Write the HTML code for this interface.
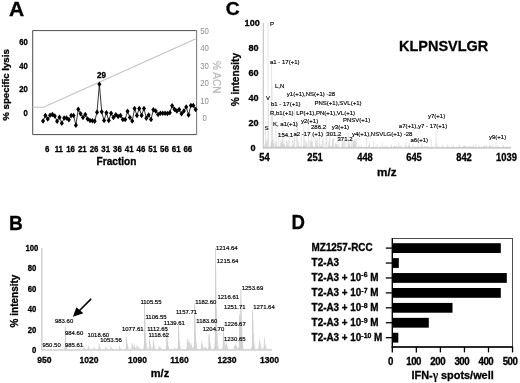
<!DOCTYPE html>
<html><head><meta charset="utf-8"><title>Figure</title>
<style>
html,body{margin:0;padding:0;background:#fff;}
body{width:520px;height:383px;overflow:hidden;font-family:"Liberation Sans",sans-serif;}
svg{display:block;filter:blur(0.42px);}
svg text{font-family:"Liberation Sans",sans-serif;}
</style></head><body>
<svg width="520" height="383" viewBox="0 0 520 383">
<rect x="0" y="0" width="520" height="383" fill="#fff"/>
<text transform="translate(8.9,15.6) scale(1.08,1)" font-size="19.5" font-weight="bold" stroke="#000" stroke-width="0.3" text-anchor="start" fill="#000">A</text>
<path d="M196.6,30.6 H32.7 V134.6 H196.6" fill="none" stroke="#4d4d4d" stroke-width="1"/>
<line x1="196.6" y1="30.1" x2="196.6" y2="135.1" stroke="#808080" stroke-width="1.1"/>
<text transform="translate(27.9,45.15) scale(0.92,1)" font-size="8.4" font-weight="bold" stroke="#000" stroke-width="0.3" text-anchor="end" fill="#000">60</text>
<text transform="translate(27.9,68.65) scale(0.92,1)" font-size="8.4" font-weight="bold" stroke="#000" stroke-width="0.3" text-anchor="end" fill="#000">40</text>
<text transform="translate(27.9,91.95) scale(0.92,1)" font-size="8.4" font-weight="bold" stroke="#000" stroke-width="0.3" text-anchor="end" fill="#000">20</text>
<text transform="translate(27.9,115.65) scale(0.92,1)" font-size="8.4" font-weight="bold" stroke="#000" stroke-width="0.3" text-anchor="end" fill="#000">0</text>
<text transform="translate(204.6,33.85) scale(0.95,1)" font-size="8.2" text-anchor="middle" fill="#8c8c8c">50</text>
<text transform="translate(204.6,51.35) scale(0.95,1)" font-size="8.2" text-anchor="middle" fill="#8c8c8c">40</text>
<text transform="translate(204.6,68.85000000000001) scale(0.95,1)" font-size="8.2" text-anchor="middle" fill="#8c8c8c">30</text>
<text transform="translate(204.6,86.35000000000001) scale(0.95,1)" font-size="8.2" text-anchor="middle" fill="#8c8c8c">20</text>
<text transform="translate(204.6,103.95) scale(0.95,1)" font-size="8.2" text-anchor="middle" fill="#8c8c8c">10</text>
<text transform="translate(204.6,121.45) scale(0.95,1)" font-size="8.2" text-anchor="middle" fill="#8c8c8c">0</text>
<text transform="translate(47.1,152.1) scale(0.86,1)" font-size="9.2" font-weight="bold" stroke="#000" stroke-width="0.3" text-anchor="middle" fill="#000">6</text>
<text transform="translate(58.83,152.1) scale(0.86,1)" font-size="9.2" font-weight="bold" stroke="#000" stroke-width="0.3" text-anchor="middle" fill="#000">11</text>
<text transform="translate(70.56,152.1) scale(0.86,1)" font-size="9.2" font-weight="bold" stroke="#000" stroke-width="0.3" text-anchor="middle" fill="#000">16</text>
<text transform="translate(82.28999999999999,152.1) scale(0.86,1)" font-size="9.2" font-weight="bold" stroke="#000" stroke-width="0.3" text-anchor="middle" fill="#000">21</text>
<text transform="translate(94.02000000000001,152.1) scale(0.86,1)" font-size="9.2" font-weight="bold" stroke="#000" stroke-width="0.3" text-anchor="middle" fill="#000">26</text>
<text transform="translate(105.75,152.1) scale(0.86,1)" font-size="9.2" font-weight="bold" stroke="#000" stroke-width="0.3" text-anchor="middle" fill="#000">31</text>
<text transform="translate(117.47999999999999,152.1) scale(0.86,1)" font-size="9.2" font-weight="bold" stroke="#000" stroke-width="0.3" text-anchor="middle" fill="#000">36</text>
<text transform="translate(129.21,152.1) scale(0.86,1)" font-size="9.2" font-weight="bold" stroke="#000" stroke-width="0.3" text-anchor="middle" fill="#000">41</text>
<text transform="translate(140.94,152.1) scale(0.86,1)" font-size="9.2" font-weight="bold" stroke="#000" stroke-width="0.3" text-anchor="middle" fill="#000">46</text>
<text transform="translate(152.67000000000002,152.1) scale(0.86,1)" font-size="9.2" font-weight="bold" stroke="#000" stroke-width="0.3" text-anchor="middle" fill="#000">51</text>
<text transform="translate(164.4,152.1) scale(0.86,1)" font-size="9.2" font-weight="bold" stroke="#000" stroke-width="0.3" text-anchor="middle" fill="#000">56</text>
<text transform="translate(176.13,152.1) scale(0.86,1)" font-size="9.2" font-weight="bold" stroke="#000" stroke-width="0.3" text-anchor="middle" fill="#000">61</text>
<text transform="translate(187.85999999999999,152.1) scale(0.86,1)" font-size="9.2" font-weight="bold" stroke="#000" stroke-width="0.3" text-anchor="middle" fill="#000">66</text>
<text x="116.5" y="165.0" font-size="10.1" font-weight="bold" stroke="#000" stroke-width="0.3" text-anchor="middle" fill="#000">Fraction</text>
<text transform="translate(9.3,85.0) rotate(-90)" font-size="9.7" font-weight="bold" stroke="#000" stroke-width="0.3" text-anchor="middle">% specific lysis</text>
<text transform="translate(213.0,77.3) rotate(90)" font-size="10.1" stroke="#b8b8b8" stroke-width="0.2" text-anchor="middle" fill="#b8b8b8">% ACN</text>
<polyline points="32.5,107.3 43.5,107.3 196.5,38.5" fill="none" stroke="#c2c2c2" stroke-width="1.05"/>
<polyline points="43.05,120.90 45.40,115.50 47.74,119.00 50.09,115.20 52.44,114.40 54.78,116.10 57.13,121.30 59.48,117.20 61.83,123.30 64.17,118.00 66.52,118.00 68.87,119.80 71.21,115.50 73.56,115.50 75.91,125.20 78.25,109.30 80.60,113.80 82.95,117.40 85.30,114.60 87.64,119.00 89.99,120.50 92.34,120.80 94.68,121.30 97.03,112.20 99.38,84.20 101.72,111.80 104.07,120.60 106.42,112.70 108.77,120.60 111.11,113.30 113.46,117.50 115.81,114.80 118.15,116.40 120.50,115.40 122.85,119.60 125.19,119.60 127.54,111.20 129.89,117.50 132.24,121.00 134.58,108.50 136.93,115.40 139.28,108.50 141.62,115.40 143.97,108.40 146.32,118.20 148.66,115.00 151.01,119.40 153.36,109.80 155.71,110.90 158.05,114.50 160.40,113.20 162.75,113.20 165.09,113.20 167.44,113.50 169.79,112.80 172.13,105.70 174.48,109.30 176.83,110.90 179.18,109.60 181.52,113.80 183.87,110.90 186.22,107.00 188.56,115.00 190.91,105.40 193.26,105.40 195.61,109.60" fill="none" stroke="#111" stroke-width="0.85"/>
<path d="M43.05,118.15l2.05,2.75l-2.05,2.75l-2.05,-2.75zM45.40,112.75l2.05,2.75l-2.05,2.75l-2.05,-2.75zM47.74,116.25l2.05,2.75l-2.05,2.75l-2.05,-2.75zM50.09,112.45l2.05,2.75l-2.05,2.75l-2.05,-2.75zM52.44,111.65l2.05,2.75l-2.05,2.75l-2.05,-2.75zM54.78,113.35l2.05,2.75l-2.05,2.75l-2.05,-2.75zM57.13,118.55l2.05,2.75l-2.05,2.75l-2.05,-2.75zM59.48,114.45l2.05,2.75l-2.05,2.75l-2.05,-2.75zM61.83,120.55l2.05,2.75l-2.05,2.75l-2.05,-2.75zM64.17,115.25l2.05,2.75l-2.05,2.75l-2.05,-2.75zM66.52,115.25l2.05,2.75l-2.05,2.75l-2.05,-2.75zM68.87,117.05l2.05,2.75l-2.05,2.75l-2.05,-2.75zM71.21,112.75l2.05,2.75l-2.05,2.75l-2.05,-2.75zM73.56,112.75l2.05,2.75l-2.05,2.75l-2.05,-2.75zM75.91,122.45l2.05,2.75l-2.05,2.75l-2.05,-2.75zM78.25,106.55l2.05,2.75l-2.05,2.75l-2.05,-2.75zM80.60,111.05l2.05,2.75l-2.05,2.75l-2.05,-2.75zM82.95,114.65l2.05,2.75l-2.05,2.75l-2.05,-2.75zM85.30,111.85l2.05,2.75l-2.05,2.75l-2.05,-2.75zM87.64,116.25l2.05,2.75l-2.05,2.75l-2.05,-2.75zM89.99,117.75l2.05,2.75l-2.05,2.75l-2.05,-2.75zM92.34,118.05l2.05,2.75l-2.05,2.75l-2.05,-2.75zM94.68,118.55l2.05,2.75l-2.05,2.75l-2.05,-2.75zM97.03,109.45l2.05,2.75l-2.05,2.75l-2.05,-2.75zM99.38,81.45l2.05,2.75l-2.05,2.75l-2.05,-2.75zM101.72,109.05l2.05,2.75l-2.05,2.75l-2.05,-2.75zM104.07,117.85l2.05,2.75l-2.05,2.75l-2.05,-2.75zM106.42,109.95l2.05,2.75l-2.05,2.75l-2.05,-2.75zM108.77,117.85l2.05,2.75l-2.05,2.75l-2.05,-2.75zM111.11,110.55l2.05,2.75l-2.05,2.75l-2.05,-2.75zM113.46,114.75l2.05,2.75l-2.05,2.75l-2.05,-2.75zM115.81,112.05l2.05,2.75l-2.05,2.75l-2.05,-2.75zM118.15,113.65l2.05,2.75l-2.05,2.75l-2.05,-2.75zM120.50,112.65l2.05,2.75l-2.05,2.75l-2.05,-2.75zM122.85,116.85l2.05,2.75l-2.05,2.75l-2.05,-2.75zM125.19,116.85l2.05,2.75l-2.05,2.75l-2.05,-2.75zM127.54,108.45l2.05,2.75l-2.05,2.75l-2.05,-2.75zM129.89,114.75l2.05,2.75l-2.05,2.75l-2.05,-2.75zM132.24,118.25l2.05,2.75l-2.05,2.75l-2.05,-2.75zM134.58,105.75l2.05,2.75l-2.05,2.75l-2.05,-2.75zM136.93,112.65l2.05,2.75l-2.05,2.75l-2.05,-2.75zM139.28,105.75l2.05,2.75l-2.05,2.75l-2.05,-2.75zM141.62,112.65l2.05,2.75l-2.05,2.75l-2.05,-2.75zM143.97,105.65l2.05,2.75l-2.05,2.75l-2.05,-2.75zM146.32,115.45l2.05,2.75l-2.05,2.75l-2.05,-2.75zM148.66,112.25l2.05,2.75l-2.05,2.75l-2.05,-2.75zM151.01,116.65l2.05,2.75l-2.05,2.75l-2.05,-2.75zM153.36,107.05l2.05,2.75l-2.05,2.75l-2.05,-2.75zM155.71,108.15l2.05,2.75l-2.05,2.75l-2.05,-2.75zM158.05,111.75l2.05,2.75l-2.05,2.75l-2.05,-2.75zM160.40,110.45l2.05,2.75l-2.05,2.75l-2.05,-2.75zM162.75,110.45l2.05,2.75l-2.05,2.75l-2.05,-2.75zM165.09,110.45l2.05,2.75l-2.05,2.75l-2.05,-2.75zM167.44,110.75l2.05,2.75l-2.05,2.75l-2.05,-2.75zM169.79,110.05l2.05,2.75l-2.05,2.75l-2.05,-2.75zM172.13,102.95l2.05,2.75l-2.05,2.75l-2.05,-2.75zM174.48,106.55l2.05,2.75l-2.05,2.75l-2.05,-2.75zM176.83,108.15l2.05,2.75l-2.05,2.75l-2.05,-2.75zM179.18,106.85l2.05,2.75l-2.05,2.75l-2.05,-2.75zM181.52,111.05l2.05,2.75l-2.05,2.75l-2.05,-2.75zM183.87,108.15l2.05,2.75l-2.05,2.75l-2.05,-2.75zM186.22,104.25l2.05,2.75l-2.05,2.75l-2.05,-2.75zM188.56,112.25l2.05,2.75l-2.05,2.75l-2.05,-2.75zM190.91,102.65l2.05,2.75l-2.05,2.75l-2.05,-2.75zM193.26,102.65l2.05,2.75l-2.05,2.75l-2.05,-2.75zM195.61,106.85l2.05,2.75l-2.05,2.75l-2.05,-2.75z" fill="#000"/>
<text transform="translate(101.6,78.2) scale(0.9,1)" font-size="9" font-weight="bold" stroke="#000" stroke-width="0.3" text-anchor="middle" fill="#000">29</text>
<text transform="translate(8.9,229.6) scale(0.975,1)" font-size="19.6" font-weight="bold" stroke="#000" stroke-width="0.3" text-anchor="start" fill="#000">B</text>
<line x1="41.9" y1="248" x2="41.9" y2="350.5" stroke="#c4c4c4" stroke-width="1.1"/>
<line x1="41.5" y1="350" x2="272" y2="350" stroke="#bbb" stroke-width="1"/>
<text transform="translate(36.4,353.0) scale(0.92,1)" font-size="8.4" font-weight="bold" stroke="#000" stroke-width="0.3" text-anchor="end" fill="#000">0</text>
<text transform="translate(36.4,332.6) scale(0.92,1)" font-size="8.4" font-weight="bold" stroke="#000" stroke-width="0.3" text-anchor="end" fill="#000">20</text>
<text transform="translate(36.4,312.2) scale(0.92,1)" font-size="8.4" font-weight="bold" stroke="#000" stroke-width="0.3" text-anchor="end" fill="#000">40</text>
<text transform="translate(36.4,291.8) scale(0.92,1)" font-size="8.4" font-weight="bold" stroke="#000" stroke-width="0.3" text-anchor="end" fill="#000">60</text>
<text transform="translate(36.4,271.4) scale(0.92,1)" font-size="8.4" font-weight="bold" stroke="#000" stroke-width="0.3" text-anchor="end" fill="#000">80</text>
<text transform="translate(38.4,251.0) scale(0.92,1)" font-size="8.4" font-weight="bold" stroke="#000" stroke-width="0.3" text-anchor="end" fill="#000">100</text>
<text transform="translate(44.3,363.4) scale(0.93,1)" font-size="9.2" font-weight="bold" stroke="#000" stroke-width="0.3" text-anchor="middle" fill="#000">950</text>
<text transform="translate(89,363.4) scale(0.93,1)" font-size="9.2" font-weight="bold" stroke="#000" stroke-width="0.3" text-anchor="middle" fill="#000">1020</text>
<text transform="translate(137.4,363.4) scale(0.93,1)" font-size="9.2" font-weight="bold" stroke="#000" stroke-width="0.3" text-anchor="middle" fill="#000">1090</text>
<text transform="translate(179.5,363.4) scale(0.93,1)" font-size="9.2" font-weight="bold" stroke="#000" stroke-width="0.3" text-anchor="middle" fill="#000">1160</text>
<text transform="translate(227,363.4) scale(0.93,1)" font-size="9.2" font-weight="bold" stroke="#000" stroke-width="0.3" text-anchor="middle" fill="#000">1230</text>
<text transform="translate(269.5,363.4) scale(0.93,1)" font-size="9.2" font-weight="bold" stroke="#000" stroke-width="0.3" text-anchor="middle" fill="#000">1300</text>
<text x="160" y="377.2" font-size="11" font-weight="bold" stroke="#000" stroke-width="0.3" text-anchor="middle" fill="#000">m/z</text>
<text transform="translate(17.7,301) rotate(-90)" font-size="10" font-weight="bold" stroke="#000" stroke-width="0.3" text-anchor="middle">% intensity</text>
<path d="M42.5,350 L42.50,349.94 L42.70,349.90 L42.90,349.85 L43.10,349.78 L43.30,349.64 L43.50,348.92 L43.70,347.13 L43.90,346.73 L44.10,348.24 L44.30,348.44 L44.50,348.12 L44.70,348.93 L44.90,349.63 L45.10,349.82 L45.30,349.88 L45.50,349.92 L45.70,349.95 L45.90,349.97 L46.10,349.98 L46.30,349.99 L46.50,350.00 L46.70,350.00 L46.90,350.00 L47.10,350.00 L47.30,350.00 L47.50,350.00 L47.70,350.00 L47.90,350.00 L48.10,350.00 L48.30,350.00 L48.50,350.00 L48.70,350.00 L48.90,350.00 L49.10,350.00 L49.30,350.00 L49.50,350.00 L49.70,350.00 L49.90,350.00 L50.10,350.00 L50.30,350.00 L50.50,350.00 L50.70,350.00 L50.90,350.00 L51.10,350.00 L51.30,350.00 L51.50,350.00 L51.70,350.00 L51.90,350.00 L52.10,350.00 L52.30,350.00 L52.50,350.00 L52.70,350.00 L52.90,350.00 L53.10,350.00 L53.30,350.00 L53.50,350.00 L53.70,350.00 L53.90,350.00 L54.10,350.00 L54.30,350.00 L54.50,350.00 L54.70,350.00 L54.90,350.00 L55.10,350.00 L55.30,350.00 L55.50,350.00 L55.70,350.00 L55.90,350.00 L56.10,350.00 L56.30,350.00 L56.50,350.00 L56.70,350.00 L56.90,350.00 L57.10,350.00 L57.30,350.00 L57.50,350.00 L57.70,350.00 L57.90,350.00 L58.10,350.00 L58.30,350.00 L58.50,350.00 L58.70,350.00 L58.90,350.00 L59.10,350.00 L59.30,350.00 L59.50,350.00 L59.70,350.00 L59.90,350.00 L60.10,350.00 L60.30,350.00 L60.50,350.00 L60.70,350.00 L60.90,350.00 L61.10,350.00 L61.30,350.00 L61.50,350.00 L61.70,350.00 L61.90,350.00 L62.10,350.00 L62.30,350.00 L62.50,350.00 L62.70,350.00 L62.90,349.99 L63.10,349.98 L63.30,349.95 L63.50,349.89 L63.70,349.79 L63.90,349.62 L64.10,349.36 L64.30,349.01 L64.50,348.56 L64.70,347.95 L64.90,345.69 L65.10,335.73 L65.30,322.69 L65.50,328.63 L65.70,338.22 L65.90,335.31 L66.10,336.47 L66.30,342.99 L66.50,343.71 L66.70,343.62 L66.90,346.74 L67.10,348.78 L67.30,349.34 L67.50,349.57 L67.70,349.73 L67.90,349.84 L68.10,349.91 L68.30,349.95 L68.50,349.98 L68.70,349.99 L68.90,350.00 L69.10,350.00 L69.30,350.00 L69.50,350.00 L69.70,350.00 L69.90,350.00 L70.10,350.00 L70.30,350.00 L70.50,350.00 L70.70,350.00 L70.90,350.00 L71.10,350.00 L71.30,350.00 L71.50,350.00 L71.70,350.00 L71.90,350.00 L72.10,350.00 L72.30,350.00 L72.50,350.00 L72.70,350.00 L72.90,350.00 L73.10,350.00 L73.30,350.00 L73.50,350.00 L73.70,350.00 L73.90,350.00 L74.10,350.00 L74.30,350.00 L74.50,350.00 L74.70,350.00 L74.90,350.00 L75.10,350.00 L75.30,350.00 L75.50,350.00 L75.70,350.00 L75.90,350.00 L76.10,349.59 L76.30,349.59 L76.50,349.59 L76.70,349.59 L76.90,349.59 L77.10,349.59 L77.30,349.59 L77.50,349.59 L77.70,349.59 L77.90,349.59 L78.10,349.59 L78.30,349.58 L78.50,349.58 L78.70,349.58 L78.90,349.58 L79.10,349.58 L79.30,349.58 L79.50,349.58 L79.70,349.58 L79.90,349.58 L80.10,349.58 L80.30,349.58 L80.50,349.58 L80.70,349.58 L80.90,349.58 L81.10,349.57 L81.30,349.57 L81.50,349.57 L81.70,349.56 L81.90,349.55 L82.10,349.53 L82.30,349.49 L82.50,349.44 L82.70,349.38 L82.90,349.30 L83.10,349.09 L83.30,348.06 L83.50,346.01 L83.70,346.01 L83.90,347.54 L84.10,347.12 L84.30,346.77 L84.50,347.98 L84.70,348.38 L84.90,348.17 L85.10,348.66 L85.30,349.07 L85.50,349.04 L85.70,349.18 L85.90,349.40 L86.10,349.48 L86.30,349.49 L86.50,349.49 L86.70,349.46 L86.90,349.41 L87.10,349.34 L87.30,349.25 L87.50,349.10 L87.70,348.43 L87.90,346.10 L88.10,344.25 L88.30,346.03 L88.50,346.87 L88.70,345.73 L88.90,346.60 L89.10,347.95 L89.30,347.75 L89.50,347.94 L89.70,348.73 L89.90,348.89 L90.10,348.91 L90.30,349.22 L90.50,349.42 L90.70,349.48 L90.90,349.50 L91.10,349.52 L91.30,349.53 L91.50,349.53 L91.70,349.53 L91.90,349.52 L92.10,349.50 L92.30,349.47 L92.50,349.43 L92.70,349.37 L92.90,349.30 L93.10,349.08 L93.30,348.07 L93.50,346.37 L93.70,346.68 L93.90,347.87 L94.10,347.36 L94.30,347.24 L94.50,348.29 L94.70,348.50 L94.90,348.36 L95.10,348.83 L95.30,349.12 L95.50,349.09 L95.70,349.23 L95.90,349.41 L96.10,349.47 L96.30,349.49 L96.50,349.50 L96.70,349.50 L96.90,349.49 L97.10,349.47 L97.30,349.42 L97.50,349.36 L97.70,349.25 L97.90,349.12 L98.10,348.94 L98.30,348.43 L98.50,346.34 L98.70,342.51 L98.90,341.98 L99.10,344.73 L99.30,344.49 L99.50,343.75 L99.70,345.82 L99.90,346.93 L100.10,346.66 L100.30,347.48 L100.50,348.38 L100.70,348.45 L100.90,348.69 L101.10,349.14 L101.30,349.35 L101.50,349.42 L101.70,349.45 L101.90,349.48 L102.10,349.49 L102.30,349.50 L102.50,349.50 L102.70,349.51 L102.90,349.51 L103.10,349.50 L103.30,349.50 L103.50,349.49 L103.70,349.48 L103.90,349.46 L104.10,349.43 L104.30,349.39 L104.50,349.33 L104.70,349.26 L104.90,349.11 L105.10,348.37 L105.30,346.42 L105.50,345.73 L105.70,347.28 L105.90,347.32 L106.10,346.66 L106.30,347.67 L106.50,348.36 L106.70,348.12 L106.90,348.47 L107.10,348.97 L107.30,348.99 L107.50,349.07 L107.70,349.30 L107.90,349.41 L108.10,349.45 L108.30,349.46 L108.50,349.47 L108.70,349.47 L108.90,349.47 L109.10,349.46 L109.30,349.43 L109.50,349.40 L109.70,349.34 L109.90,349.27 L110.10,349.17 L110.30,348.96 L110.50,347.90 L110.70,345.47 L110.90,345.10 L111.10,346.98 L111.30,346.71 L111.50,346.10 L111.70,347.46 L111.90,348.09 L112.10,347.82 L112.30,348.34 L112.50,348.87 L112.70,348.87 L112.90,349.00 L113.10,349.27 L113.30,349.39 L113.50,349.42 L113.70,349.44 L113.90,349.45 L114.10,349.46 L114.30,349.47 L114.50,349.47 L114.70,349.47 L114.90,349.47 L115.10,349.47 L115.30,349.47 L115.50,349.47 L115.70,349.47 L115.90,349.47 L116.10,349.47 L116.30,349.47 L116.50,349.46 L116.70,349.46 L116.90,349.46 L117.10,349.46 L117.30,349.45 L117.50,349.43 L117.70,349.41 L117.90,349.37 L118.10,349.32 L118.30,349.24 L118.50,349.15 L118.70,348.97 L118.90,348.05 L119.10,345.59 L119.30,344.69 L119.50,346.64 L119.70,346.72 L119.90,345.87 L120.10,347.13 L120.30,348.02 L120.50,347.72 L120.70,348.14 L120.90,348.79 L121.10,348.82 L121.30,348.91 L121.50,349.21 L121.70,349.35 L121.90,349.39 L122.10,349.41 L122.30,349.42 L122.50,349.43 L122.70,349.44 L122.90,349.44 L123.10,349.44 L123.30,349.44 L123.50,349.44 L123.70,349.44 L123.90,349.44 L124.10,349.43 L124.30,349.42 L124.50,349.39 L124.70,349.35 L124.90,349.27 L125.10,349.15 L125.30,348.96 L125.50,348.72 L125.70,348.41 L125.90,347.82 L126.10,344.88 L126.30,336.72 L126.50,333.38 L126.70,339.87 L126.90,340.39 L127.10,337.41 L127.30,341.50 L127.50,344.62 L127.70,343.65 L127.90,344.98 L128.10,347.18 L128.30,347.32 L128.50,347.61 L128.70,348.59 L128.90,349.09 L129.10,349.23 L129.30,349.30 L129.50,349.34 L129.70,349.37 L129.90,349.37 L130.10,349.35 L130.30,349.31 L130.50,349.24 L130.70,349.13 L130.90,348.99 L131.10,348.80 L131.30,348.30 L131.50,346.08 L131.70,342.09 L131.90,341.56 L132.10,343.20 L132.30,342.94 L132.50,343.09 L132.70,344.75 L132.90,345.54 L133.10,345.83 L133.30,346.63 L133.50,347.13 L133.70,346.49 L133.90,343.87 L134.10,342.57 L134.30,345.24 L134.50,345.92 L134.70,344.70 L134.90,346.09 L135.10,347.48 L135.30,347.12 L135.50,347.47 L135.70,348.30 L135.90,348.31 L136.10,348.26 L136.30,348.27 L136.50,346.75 L136.70,343.85 L136.90,344.36 L137.10,346.45 L137.30,345.58 L137.50,345.34 L137.70,347.12 L137.90,347.46 L138.10,347.16 L138.30,347.72 L138.50,347.21 L138.70,345.99 L138.90,346.89 L139.10,347.89 L139.30,347.44 L139.50,347.69 L139.70,348.49 L139.90,348.50 L140.10,348.51 L140.30,348.92 L140.50,349.06 L140.70,349.05 L140.90,349.19 L141.10,349.31 L141.30,349.35 L141.50,349.36 L141.70,349.37 L141.90,349.38 L142.10,349.37 L142.30,349.35 L142.50,349.31 L142.70,349.22 L142.90,349.05 L143.10,348.78 L143.30,348.35 L143.50,347.72 L143.70,346.90 L143.90,345.85 L144.10,343.37 L144.30,330.84 L144.50,303.50 L144.70,300.78 L144.90,321.85 L145.10,318.44 L145.30,312.58 L145.50,327.72 L145.70,333.85 L145.90,330.75 L146.10,336.85 L146.30,342.68 L146.50,342.51 L146.70,344.12 L146.90,347.16 L147.10,348.39 L147.30,348.75 L147.50,348.91 L147.70,348.97 L147.90,348.93 L148.10,348.80 L148.30,348.58 L148.50,348.27 L148.70,347.59 L148.90,344.08 L149.10,335.65 L149.30,333.82 L149.50,340.41 L149.70,339.83 L149.90,337.46 L150.10,342.08 L150.30,344.53 L150.50,343.54 L150.70,345.23 L150.90,347.20 L151.10,347.19 L151.30,347.58 L151.50,348.49 L151.70,348.83 L151.90,348.81 L152.10,348.68 L152.30,348.48 L152.50,348.14 L152.70,346.57 L152.90,340.65 L153.10,335.21 L153.30,339.55 L153.50,342.32 L153.70,339.26 L153.90,341.17 L154.10,345.00 L154.30,344.62 L154.50,344.93 L154.70,347.06 L154.90,347.60 L155.10,347.61 L155.30,348.41 L155.50,348.98 L155.70,349.15 L155.90,349.22 L156.10,349.27 L156.30,349.29 L156.50,349.31 L156.70,349.32 L156.90,349.32 L157.10,349.31 L157.30,349.29 L157.50,349.26 L157.70,349.21 L157.90,349.15 L158.10,349.07 L158.30,348.90 L158.50,348.06 L158.70,346.02 L158.90,345.52 L159.10,347.07 L159.30,346.90 L159.50,346.21 L159.70,346.73 L159.90,346.17 L160.10,345.90 L160.30,347.18 L160.50,347.43 L160.70,347.23 L160.90,348.00 L161.10,348.47 L161.30,348.46 L161.50,348.76 L161.70,349.01 L161.90,349.01 L162.10,349.10 L162.30,349.23 L162.50,349.28 L162.70,349.29 L162.90,349.30 L163.10,349.31 L163.30,349.31 L163.50,349.31 L163.70,349.32 L163.90,349.32 L164.10,349.32 L164.30,349.31 L164.50,349.29 L164.70,349.27 L164.90,349.21 L165.10,349.12 L165.30,348.96 L165.50,348.72 L165.70,348.38 L165.90,347.95 L166.10,347.36 L166.30,345.35 L166.50,336.45 L166.70,324.14 L166.90,328.77 L167.10,336.70 L167.30,331.82 L167.50,332.55 L167.70,340.46 L167.90,341.10 L168.10,340.57 L168.30,344.40 L168.50,346.14 L168.70,345.97 L168.90,347.23 L169.10,348.50 L169.30,348.91 L169.50,349.05 L169.70,349.14 L169.90,349.21 L170.10,349.25 L170.30,349.27 L170.50,349.28 L170.70,349.29 L170.90,349.29 L171.10,349.29 L171.30,349.29 L171.50,349.29 L171.70,349.29 L171.90,349.29 L172.10,349.29 L172.30,349.29 L172.50,349.28 L172.70,349.27 L172.90,349.26 L173.10,349.23 L173.30,349.20 L173.50,349.17 L173.70,349.11 L173.90,348.85 L174.10,347.95 L174.30,347.23 L174.50,347.92 L174.70,348.24 L174.90,347.80 L175.10,348.14 L175.30,348.66 L175.50,348.58 L175.70,348.65 L175.90,348.96 L176.10,349.01 L176.30,349.00 L176.50,349.09 L176.70,349.11 L176.90,349.02 L177.10,348.85 L177.30,348.59 L177.50,348.23 L177.70,347.76 L177.90,347.06 L178.10,344.23 L178.30,333.25 L178.50,322.25 L178.70,329.97 L178.90,335.91 L179.10,330.10 L179.30,333.21 L179.50,340.80 L179.70,340.29 L179.90,340.65 L180.10,344.76 L180.30,345.93 L180.50,345.90 L180.70,347.40 L180.90,348.54 L181.10,348.89 L181.30,349.02 L181.50,349.11 L181.70,349.17 L181.90,349.21 L182.10,349.23 L182.30,349.25 L182.50,349.25 L182.70,349.25 L182.90,349.26 L183.10,349.26 L183.30,349.26 L183.50,349.25 L183.70,349.25 L183.90,349.25 L184.10,349.25 L184.30,349.25 L184.50,349.25 L184.70,349.24 L184.90,349.23 L185.10,349.21 L185.30,349.18 L185.50,349.11 L185.70,349.01 L185.90,348.85 L186.10,348.64 L186.30,348.37 L186.50,347.78 L186.70,345.25 L186.90,339.63 L187.10,336.66 L187.30,338.41 L187.50,339.70 L187.70,339.31 L187.90,340.65 L188.10,342.60 L188.30,342.23 L188.50,339.49 L188.70,338.99 L188.90,342.33 L189.10,341.98 L189.30,338.31 L189.50,339.87 L189.70,343.79 L189.90,343.23 L190.10,342.89 L190.30,345.35 L190.50,346.14 L190.70,345.32 L190.90,343.82 L191.10,341.73 L191.30,343.37 L191.50,345.33 L191.70,344.30 L191.90,344.94 L192.10,346.96 L192.30,346.99 L192.50,346.94 L192.70,347.90 L192.90,348.14 L193.10,347.89 L193.30,347.87 L193.50,347.62 L193.70,346.95 L193.90,346.02 L194.10,344.52 L194.30,337.75 L194.50,313.91 L194.70,295.03 L194.90,313.21 L195.10,321.80 L195.30,310.14 L195.50,319.08 L195.70,332.89 L195.90,330.83 L196.10,332.77 L196.30,340.85 L196.50,342.46 L196.70,342.69 L196.90,345.84 L197.10,347.90 L197.30,348.50 L197.50,348.76 L197.70,348.93 L197.90,349.05 L198.10,349.12 L198.30,349.16 L198.50,349.18 L198.70,349.20 L198.90,349.20 L199.10,349.20 L199.30,349.19 L199.50,349.16 L199.70,349.12 L199.90,349.06 L200.10,348.95 L200.30,348.81 L200.50,348.62 L200.70,348.36 L200.90,347.52 L201.10,343.86 L201.30,338.69 L201.50,340.44 L201.70,343.46 L201.90,340.40 L202.10,339.82 L202.30,343.93 L202.50,344.58 L202.70,343.82 L202.90,345.81 L203.10,347.14 L203.30,346.95 L203.50,347.53 L203.70,348.38 L203.90,348.56 L204.10,348.54 L204.30,348.29 L204.50,347.23 L204.70,346.77 L204.90,347.65 L205.10,347.54 L205.30,346.35 L205.50,346.10 L205.70,347.07 L205.90,347.40 L206.10,347.17 L206.30,347.67 L206.50,348.25 L206.70,348.27 L206.90,348.40 L207.10,348.74 L207.30,348.80 L207.50,348.70 L207.70,348.66 L207.90,348.52 L208.10,348.24 L208.30,347.85 L208.50,347.14 L208.70,343.61 L208.90,333.31 L209.10,328.36 L209.30,336.57 L209.50,337.75 L209.70,333.70 L209.90,338.66 L210.10,342.98 L210.30,341.77 L210.50,343.31 L210.70,346.21 L210.90,346.47 L211.10,346.78 L211.30,348.05 L211.50,348.72 L211.70,348.91 L211.90,349.00 L212.10,349.07 L212.30,349.11 L212.50,349.13 L212.70,349.15 L212.90,349.15 L213.10,349.11 L213.30,349.05 L213.50,348.92 L213.70,348.65 L213.90,348.19 L214.10,347.42 L214.30,346.26 L214.50,344.66 L214.70,342.60 L214.90,339.61 L215.10,327.73 L215.30,280.85 L215.50,248.00 L215.70,263.66 L215.90,290.15 L216.10,263.85 L216.30,276.27 L216.50,310.12 L216.70,307.11 L216.90,307.88 L217.10,327.16 L217.30,332.40 L217.50,331.67 L217.70,338.80 L217.90,342.94 L218.10,342.79 L218.30,344.97 L218.50,347.48 L218.70,348.36 L218.90,348.67 L219.10,348.85 L219.30,348.96 L219.50,349.05 L219.70,349.09 L219.90,349.11 L220.10,349.13 L220.30,349.13 L220.50,349.14 L220.70,349.14 L220.90,349.13 L221.10,349.12 L221.30,349.09 L221.50,349.04 L221.70,348.95 L221.90,348.81 L222.10,348.58 L222.30,348.27 L222.50,347.87 L222.70,347.32 L222.90,345.31 L223.10,336.76 L223.30,325.99 L223.50,331.05 L223.70,337.66 L223.90,332.94 L224.10,334.22 L224.30,341.24 L224.50,341.39 L224.70,341.03 L224.90,344.41 L225.10,345.60 L225.30,345.19 L225.50,345.27 L225.70,341.82 L225.90,337.09 L226.10,340.22 L226.30,343.22 L226.50,340.81 L226.70,341.88 L226.90,345.32 L227.10,345.26 L227.30,345.29 L227.50,347.08 L227.70,347.67 L227.90,347.63 L228.10,348.26 L228.30,348.79 L228.50,348.95 L228.70,349.01 L228.90,349.05 L229.10,349.07 L229.30,349.09 L229.50,349.10 L229.70,349.10 L229.90,349.11 L230.10,349.11 L230.30,349.11 L230.50,349.11 L230.70,349.11 L230.90,349.11 L231.10,349.11 L231.30,349.10 L231.50,349.10 L231.70,349.10 L231.90,349.10 L232.10,349.09 L232.30,349.08 L232.50,349.07 L232.70,349.04 L232.90,349.00 L233.10,348.94 L233.30,348.87 L233.50,348.75 L233.70,348.23 L233.90,346.54 L234.10,345.27 L234.30,346.46 L234.50,346.87 L234.70,345.84 L234.90,345.33 L235.10,343.72 L235.30,343.28 L235.50,345.26 L235.70,345.23 L235.90,343.80 L236.10,343.71 L236.30,344.90 L236.50,345.80 L236.70,345.87 L236.90,346.39 L237.10,347.33 L237.30,347.61 L237.50,347.76 L237.70,348.25 L237.90,348.39 L238.10,348.17 L238.30,347.97 L238.50,347.62 L238.70,346.98 L238.90,346.09 L239.10,344.02 L239.30,334.02 L239.50,311.78 L239.70,308.30 L239.90,324.19 L240.10,320.05 L240.30,313.03 L240.50,318.93 L240.70,300.14 L240.90,276.90 L241.10,299.78 L241.30,313.10 L241.50,298.52 L241.70,308.96 L241.90,327.61 L242.10,325.58 L242.30,327.51 L242.50,338.00 L242.70,340.44 L242.90,340.59 L243.10,344.56 L243.30,347.32 L243.50,348.14 L243.70,348.48 L243.90,348.70 L244.10,348.85 L244.30,348.95 L244.50,349.00 L244.70,349.03 L244.90,349.05 L245.10,349.06 L245.30,349.06 L245.50,349.06 L245.70,349.06 L245.90,349.06 L246.10,349.06 L246.30,349.06 L246.50,349.06 L246.70,349.06 L246.90,349.06 L247.10,349.06 L247.30,349.05 L247.50,349.05 L247.70,349.05 L247.90,349.05 L248.10,349.05 L248.30,349.05 L248.50,349.05 L248.70,349.05 L248.90,349.05 L249.10,349.05 L249.30,349.05 L249.50,349.05 L249.70,349.05 L249.90,349.05 L250.10,349.03 L250.30,349.01 L250.50,348.97 L250.70,348.88 L250.90,348.72 L251.10,348.45 L251.30,348.04 L251.50,347.47 L251.70,346.71 L251.90,345.72 L252.10,342.70 L252.30,328.54 L252.50,305.62 L252.70,310.63 L252.90,326.45 L253.10,319.10 L253.30,318.14 L253.50,332.40 L253.70,334.85 L253.90,333.21 L254.10,339.68 L254.30,343.41 L254.50,343.08 L254.70,345.08 L254.90,347.47 L255.10,348.29 L255.30,348.58 L255.50,348.74 L255.70,348.86 L255.90,348.93 L256.10,348.98 L256.30,349.00 L256.50,349.01 L256.70,349.01 L256.90,349.01 L257.10,349.00 L257.30,348.97 L257.50,348.92 L257.70,348.84 L257.90,348.72 L258.10,348.55 L258.30,348.32 L258.50,347.80 L258.70,345.64 L258.90,341.69 L259.10,341.42 L259.30,341.60 L259.50,336.35 L259.70,336.64 L259.90,341.94 L260.10,341.25 L260.30,340.62 L260.50,344.24 L260.70,345.47 L260.90,345.08 L261.10,346.55 L261.30,347.68 L261.50,347.77 L261.70,348.18 L261.90,348.65 L262.10,348.82 L262.30,348.86 L262.50,348.85 L262.70,348.80 L262.90,348.69 L263.10,348.51 L263.30,348.27 L263.50,347.96 L263.70,347.34 L263.90,344.26 L264.10,336.01 L264.30,333.07 L264.50,339.62 L264.70,339.83 L264.90,336.99 L265.10,341.25 L265.30,344.19 L265.50,343.20 L265.70,344.64 L265.90,346.78 L266.10,346.88 L266.30,347.20 L266.50,348.19 L266.70,348.66 L266.90,348.80 L267.10,348.87 L267.30,348.92 L267.50,348.95 L267.70,348.97 L267.90,348.98 L268.10,348.98 L268.30,348.99 L268.50,348.99 L268.70,348.99 L268.90,348.99 L269.10,348.99 L269.30,348.99 L269.50,348.98 L269.70,348.98 L269.90,348.98 L270.10,348.98 L270.30,348.98 L270.50,348.98 L270.70,348.98 L270.90,348.98 L271.10,348.98 L271.30,348.98 L271.50,348.98 L271.5,350Z" fill="#d6d6d6"/>
<line x1="65.34" y1="350" x2="65.34" y2="326.54" stroke="#cdcdcd" stroke-width="0.9"/>
<line x1="144.61" y1="350" x2="144.61" y2="304.10" stroke="#cdcdcd" stroke-width="0.9"/>
<line x1="166.75" y1="350" x2="166.75" y2="329.60" stroke="#cdcdcd" stroke-width="0.9"/>
<line x1="178.51" y1="350" x2="178.51" y2="325.52" stroke="#cdcdcd" stroke-width="0.9"/>
<line x1="194.69" y1="350" x2="194.69" y2="304.10" stroke="#cdcdcd" stroke-width="0.9"/>
<line x1="215.52" y1="350" x2="215.52" y2="248.00" stroke="#cdcdcd" stroke-width="0.9"/>
<line x1="240.90" y1="350" x2="240.90" y2="289.82" stroke="#cdcdcd" stroke-width="0.9"/>
<line x1="252.57" y1="350" x2="252.57" y2="310.22" stroke="#cdcdcd" stroke-width="0.9"/>
<line x1="239.61" y1="350" x2="239.61" y2="315.32" stroke="#cdcdcd" stroke-width="0.9"/>
<line x1="223.34" y1="350" x2="223.34" y2="331.64" stroke="#cdcdcd" stroke-width="0.9"/>
<line x1="209.06" y1="350" x2="209.06" y2="334.70" stroke="#cdcdcd" stroke-width="0.9"/>
<line x1="126.45" y1="350" x2="126.45" y2="336.74" stroke="#cdcdcd" stroke-width="0.9"/>
<text transform="translate(42.5,347.45) scale(0.98,1)" font-size="6.1" text-anchor="start" fill="#000" stroke="#000" stroke-width="0.18">950.50</text>
<text transform="translate(55,323.15) scale(0.98,1)" font-size="6.1" text-anchor="start" fill="#000" stroke="#000" stroke-width="0.18">983.60</text>
<text transform="translate(65,334.65) scale(0.98,1)" font-size="6.1" text-anchor="start" fill="#000" stroke="#000" stroke-width="0.18">984.60</text>
<text transform="translate(65,347.45) scale(0.98,1)" font-size="6.1" text-anchor="start" fill="#000" stroke="#000" stroke-width="0.18">985.61</text>
<text transform="translate(87.5,336.75) scale(0.98,1)" font-size="6.1" text-anchor="start" fill="#000" stroke="#000" stroke-width="0.18">1018.60</text>
<text transform="translate(100.3,341.95) scale(0.98,1)" font-size="6.1" text-anchor="start" fill="#000" stroke="#000" stroke-width="0.18">1053.56</text>
<text transform="translate(122,330.95) scale(0.98,1)" font-size="6.1" text-anchor="start" fill="#000" stroke="#000" stroke-width="0.18">1077.61</text>
<text transform="translate(140.4,303.75) scale(0.98,1)" font-size="6.1" text-anchor="start" fill="#000" stroke="#000" stroke-width="0.18">1105.55</text>
<text transform="translate(145.5,319.45) scale(0.98,1)" font-size="6.1" text-anchor="start" fill="#000" stroke="#000" stroke-width="0.18">1106.55</text>
<text transform="translate(147.2,330.95) scale(0.98,1)" font-size="6.1" text-anchor="start" fill="#000" stroke="#000" stroke-width="0.18">1112.65</text>
<text transform="translate(148.5,336.75) scale(0.98,1)" font-size="6.1" text-anchor="start" fill="#000" stroke="#000" stroke-width="0.18">1118.62</text>
<text transform="translate(163.8,325.04999999999995) scale(0.98,1)" font-size="6.1" text-anchor="start" fill="#000" stroke="#000" stroke-width="0.18">1139.61</text>
<text transform="translate(176,314.25) scale(0.98,1)" font-size="6.1" text-anchor="start" fill="#000" stroke="#000" stroke-width="0.18">1157.71</text>
<text transform="translate(195.3,303.75) scale(0.98,1)" font-size="6.1" text-anchor="start" fill="#000" stroke="#000" stroke-width="0.18">1182.60</text>
<text transform="translate(196.3,323.25) scale(0.98,1)" font-size="6.1" text-anchor="start" fill="#000" stroke="#000" stroke-width="0.18">1183.60</text>
<text transform="translate(202.7,331.25) scale(0.98,1)" font-size="6.1" text-anchor="start" fill="#000" stroke="#000" stroke-width="0.18">1204.70</text>
<text transform="translate(216,250.25) scale(0.98,1)" font-size="6.1" text-anchor="start" fill="#000" stroke="#000" stroke-width="0.18">1214.64</text>
<text transform="translate(216.8,262.65) scale(0.98,1)" font-size="6.1" text-anchor="start" fill="#000" stroke="#000" stroke-width="0.18">1215.64</text>
<text transform="translate(217.5,298.75) scale(0.98,1)" font-size="6.1" text-anchor="start" fill="#000" stroke="#000" stroke-width="0.18">1216.61</text>
<text transform="translate(224,308.95) scale(0.98,1)" font-size="6.1" text-anchor="start" fill="#000" stroke="#000" stroke-width="0.18">1251.71</text>
<text transform="translate(241.7,289.65) scale(0.98,1)" font-size="6.1" text-anchor="start" fill="#000" stroke="#000" stroke-width="0.18">1253.69</text>
<text transform="translate(253.2,308.95) scale(0.98,1)" font-size="6.1" text-anchor="start" fill="#000" stroke="#000" stroke-width="0.18">1271.64</text>
<text transform="translate(224.2,325.75) scale(0.98,1)" font-size="6.1" text-anchor="start" fill="#000" stroke="#000" stroke-width="0.18">1226.67</text>
<text transform="translate(224,341.25) scale(0.98,1)" font-size="6.1" text-anchor="start" fill="#000" stroke="#000" stroke-width="0.18">1230.65</text>
<line x1="91.2" y1="298.9" x2="79" y2="311" stroke="#000" stroke-width="1.6"/>
<path d="M72.9,316.7 L76.4,307.2 L83.4,313.3 Z" fill="#000"/>
<text transform="translate(225.7,15.0) scale(1.07,1)" font-size="18.0" font-weight="bold" stroke="#000" stroke-width="0.3" text-anchor="start" fill="#000">C</text>
<line x1="263.3" y1="23" x2="263.3" y2="148.5" stroke="#c2c2c2" stroke-width="1.1"/>
<line x1="263.0" y1="148" x2="511" y2="148" stroke="#bbb" stroke-width="1"/>
<text transform="translate(253.0,151.0) scale(0.93,1)" font-size="9.8" font-weight="bold" stroke="#000" stroke-width="0.3" text-anchor="middle" fill="#000">0</text>
<text transform="translate(253.5,125.85000000000001) scale(0.93,1)" font-size="9.8" font-weight="bold" stroke="#000" stroke-width="0.3" text-anchor="middle" fill="#000">20</text>
<text transform="translate(253.5,100.75) scale(0.93,1)" font-size="9.8" font-weight="bold" stroke="#000" stroke-width="0.3" text-anchor="middle" fill="#000">40</text>
<text transform="translate(253.5,75.65) scale(0.93,1)" font-size="9.8" font-weight="bold" stroke="#000" stroke-width="0.3" text-anchor="middle" fill="#000">60</text>
<text transform="translate(253.5,50.55) scale(0.93,1)" font-size="9.8" font-weight="bold" stroke="#000" stroke-width="0.3" text-anchor="middle" fill="#000">80</text>
<text transform="translate(252.2,25.7) scale(0.93,1)" font-size="9.8" font-weight="bold" stroke="#000" stroke-width="0.3" text-anchor="middle" fill="#000">100</text>
<text transform="translate(264.5,161.1) scale(0.93,1)" font-size="10.1" font-weight="bold" stroke="#000" stroke-width="0.3" text-anchor="middle" fill="#000">54</text>
<text transform="translate(315,161.1) scale(0.93,1)" font-size="10.1" font-weight="bold" stroke="#000" stroke-width="0.3" text-anchor="middle" fill="#000">251</text>
<text transform="translate(365,161.1) scale(0.93,1)" font-size="10.1" font-weight="bold" stroke="#000" stroke-width="0.3" text-anchor="middle" fill="#000">448</text>
<text transform="translate(414,161.1) scale(0.93,1)" font-size="10.1" font-weight="bold" stroke="#000" stroke-width="0.3" text-anchor="middle" fill="#000">645</text>
<text transform="translate(464,161.1) scale(0.93,1)" font-size="10.1" font-weight="bold" stroke="#000" stroke-width="0.3" text-anchor="middle" fill="#000">842</text>
<text transform="translate(506.5,161.1) scale(0.93,1)" font-size="10.1" font-weight="bold" stroke="#000" stroke-width="0.3" text-anchor="middle" fill="#000">1039</text>
<text x="386.8" y="176" font-size="11.7" font-weight="bold" stroke="#000" stroke-width="0.3" text-anchor="middle" fill="#000">m/z</text>
<text transform="translate(238.7,79.6) rotate(-90)" font-size="10.1" font-weight="bold" stroke="#000" stroke-width="0.3" text-anchor="middle">% intensity</text>
<text transform="translate(399.0,51.4) scale(0.985,1)" font-size="14.7" font-weight="bold" stroke="#000" stroke-width="0.3" text-anchor="start" fill="#000">KLPNSVLGR</text>
<line x1="268.06" y1="148" x2="268.06" y2="22.50" stroke="#dedede" stroke-width="0.8"/>
<line x1="271.61" y1="148" x2="271.61" y2="62.66" stroke="#dedede" stroke-width="0.8"/>
<line x1="272.12" y1="148" x2="272.12" y2="85.25" stroke="#dedede" stroke-width="0.8"/>
<line x1="272.38" y1="148" x2="272.38" y2="110.35" stroke="#dedede" stroke-width="0.8"/>
<line x1="268.57" y1="148" x2="268.57" y2="102.82" stroke="#dedede" stroke-width="0.8"/>
<line x1="265.52" y1="148" x2="265.52" y2="130.43" stroke="#dedede" stroke-width="0.8"/>
<line x1="275.93" y1="148" x2="275.93" y2="122.90" stroke="#dedede" stroke-width="0.8"/>
<line x1="283.04" y1="148" x2="283.04" y2="115.37" stroke="#dedede" stroke-width="0.8"/>
<line x1="278.72" y1="148" x2="278.72" y2="130.43" stroke="#dedede" stroke-width="0.8"/>
<line x1="289.41" y1="148" x2="289.41" y2="136.71" stroke="#dedede" stroke-width="0.8"/>
<line x1="294.71" y1="148" x2="294.71" y2="105.33" stroke="#dedede" stroke-width="0.8"/>
<line x1="296.74" y1="148" x2="296.74" y2="120.39" stroke="#dedede" stroke-width="0.8"/>
<line x1="297.25" y1="148" x2="297.25" y2="125.41" stroke="#dedede" stroke-width="0.8"/>
<line x1="301.31" y1="148" x2="301.31" y2="132.94" stroke="#dedede" stroke-width="0.8"/>
<line x1="303.85" y1="148" x2="303.85" y2="117.88" stroke="#dedede" stroke-width="0.8"/>
<line x1="304.10" y1="148" x2="304.10" y2="130.43" stroke="#dedede" stroke-width="0.8"/>
<line x1="308.16" y1="148" x2="308.16" y2="122.90" stroke="#dedede" stroke-width="0.8"/>
<line x1="311.21" y1="148" x2="311.21" y2="135.45" stroke="#dedede" stroke-width="0.8"/>
<line x1="315.78" y1="148" x2="315.78" y2="137.96" stroke="#dedede" stroke-width="0.8"/>
<line x1="319.33" y1="148" x2="319.33" y2="125.41" stroke="#dedede" stroke-width="0.8"/>
<line x1="322.93" y1="148" x2="322.93" y2="127.92" stroke="#dedede" stroke-width="0.8"/>
<line x1="326.74" y1="148" x2="326.74" y2="132.94" stroke="#dedede" stroke-width="0.8"/>
<line x1="326.18" y1="148" x2="326.18" y2="112.86" stroke="#dedede" stroke-width="0.8"/>
<line x1="329.99" y1="148" x2="329.99" y2="130.43" stroke="#dedede" stroke-width="0.8"/>
<line x1="333.80" y1="148" x2="333.80" y2="137.96" stroke="#dedede" stroke-width="0.8"/>
<line x1="337.86" y1="148" x2="337.86" y2="125.41" stroke="#dedede" stroke-width="0.8"/>
<line x1="344.51" y1="148" x2="344.51" y2="139.22" stroke="#dedede" stroke-width="0.8"/>
<line x1="348.26" y1="148" x2="348.26" y2="132.94" stroke="#dedede" stroke-width="0.8"/>
<line x1="351.31" y1="148" x2="351.31" y2="136.71" stroke="#dedede" stroke-width="0.8"/>
<line x1="354.35" y1="148" x2="354.35" y2="142.98" stroke="#dedede" stroke-width="0.8"/>
<line x1="358.92" y1="148" x2="358.92" y2="144.24" stroke="#dedede" stroke-width="0.8"/>
<line x1="366.54" y1="148" x2="366.54" y2="135.45" stroke="#dedede" stroke-width="0.8"/>
<line x1="369.58" y1="148" x2="369.58" y2="142.98" stroke="#dedede" stroke-width="0.8"/>
<line x1="373.64" y1="148" x2="373.64" y2="141.72" stroke="#dedede" stroke-width="0.8"/>
<line x1="377.19" y1="148" x2="377.19" y2="144.24" stroke="#dedede" stroke-width="0.8"/>
<line x1="382.27" y1="148" x2="382.27" y2="142.98" stroke="#dedede" stroke-width="0.8"/>
<line x1="391.66" y1="148" x2="391.66" y2="144.24" stroke="#dedede" stroke-width="0.8"/>
<line x1="398.77" y1="148" x2="398.77" y2="142.98" stroke="#dedede" stroke-width="0.8"/>
<line x1="405.62" y1="148" x2="405.62" y2="141.72" stroke="#dedede" stroke-width="0.8"/>
<line x1="409.43" y1="148" x2="409.43" y2="142.98" stroke="#dedede" stroke-width="0.8"/>
<line x1="412.73" y1="148" x2="412.73" y2="144.24" stroke="#dedede" stroke-width="0.8"/>
<line x1="431.25" y1="148" x2="431.25" y2="139.22" stroke="#dedede" stroke-width="0.8"/>
<line x1="436.08" y1="148" x2="436.08" y2="131.69" stroke="#dedede" stroke-width="0.8"/>
<line x1="436.84" y1="148" x2="436.84" y2="142.98" stroke="#dedede" stroke-width="0.8"/>
<line x1="435.32" y1="148" x2="435.32" y2="144.24" stroke="#dedede" stroke-width="0.8"/>
<line x1="443.18" y1="148" x2="443.18" y2="145.49" stroke="#dedede" stroke-width="0.8"/>
<line x1="453.33" y1="148" x2="453.33" y2="144.86" stroke="#dedede" stroke-width="0.8"/>
<line x1="459.68" y1="148" x2="459.68" y2="144.24" stroke="#dedede" stroke-width="0.8"/>
<line x1="468.56" y1="148" x2="468.56" y2="145.49" stroke="#dedede" stroke-width="0.8"/>
<line x1="478.71" y1="148" x2="478.71" y2="145.49" stroke="#dedede" stroke-width="0.8"/>
<line x1="486.33" y1="148" x2="486.33" y2="144.86" stroke="#dedede" stroke-width="0.8"/>
<line x1="492.67" y1="148" x2="492.67" y2="144.24" stroke="#dedede" stroke-width="0.8"/>
<line x1="495.97" y1="148" x2="495.97" y2="141.72" stroke="#dedede" stroke-width="0.8"/>
<line x1="497.75" y1="148" x2="497.75" y2="145.49" stroke="#dedede" stroke-width="0.8"/>
<line x1="306.30" y1="148" x2="306.30" y2="141.90" stroke="#d0d0d0" stroke-width="0.6"/>
<line x1="349.89" y1="148" x2="349.89" y2="142.61" stroke="#d0d0d0" stroke-width="0.6"/>
<line x1="311.42" y1="148" x2="311.42" y2="141.69" stroke="#d0d0d0" stroke-width="0.6"/>
<line x1="281.57" y1="148" x2="281.57" y2="142.26" stroke="#d0d0d0" stroke-width="0.6"/>
<line x1="322.70" y1="148" x2="322.70" y2="140.15" stroke="#d0d0d0" stroke-width="0.6"/>
<line x1="273.20" y1="148" x2="273.20" y2="143.83" stroke="#d0d0d0" stroke-width="0.6"/>
<line x1="272.88" y1="148" x2="272.88" y2="140.02" stroke="#d0d0d0" stroke-width="0.6"/>
<line x1="328.57" y1="148" x2="328.57" y2="145.80" stroke="#d0d0d0" stroke-width="0.6"/>
<line x1="355.25" y1="148" x2="355.25" y2="138.85" stroke="#d0d0d0" stroke-width="0.6"/>
<line x1="324.92" y1="148" x2="324.92" y2="141.48" stroke="#d0d0d0" stroke-width="0.6"/>
<line x1="279.06" y1="148" x2="279.06" y2="146.00" stroke="#d0d0d0" stroke-width="0.6"/>
<line x1="313.32" y1="148" x2="313.32" y2="145.67" stroke="#d0d0d0" stroke-width="0.6"/>
<line x1="282.08" y1="148" x2="282.08" y2="144.30" stroke="#d0d0d0" stroke-width="0.6"/>
<line x1="267.29" y1="148" x2="267.29" y2="142.62" stroke="#d0d0d0" stroke-width="0.6"/>
<line x1="305.21" y1="148" x2="305.21" y2="139.77" stroke="#d0d0d0" stroke-width="0.6"/>
<line x1="312.47" y1="148" x2="312.47" y2="141.30" stroke="#d0d0d0" stroke-width="0.6"/>
<line x1="310.68" y1="148" x2="310.68" y2="141.13" stroke="#d0d0d0" stroke-width="0.6"/>
<line x1="306.76" y1="148" x2="306.76" y2="144.02" stroke="#d0d0d0" stroke-width="0.6"/>
<line x1="356.67" y1="148" x2="356.67" y2="138.62" stroke="#d0d0d0" stroke-width="0.6"/>
<line x1="342.13" y1="148" x2="342.13" y2="140.79" stroke="#d0d0d0" stroke-width="0.6"/>
<line x1="293.63" y1="148" x2="293.63" y2="144.39" stroke="#d0d0d0" stroke-width="0.6"/>
<line x1="291.21" y1="148" x2="291.21" y2="145.59" stroke="#d0d0d0" stroke-width="0.6"/>
<line x1="335.30" y1="148" x2="335.30" y2="143.10" stroke="#d0d0d0" stroke-width="0.6"/>
<line x1="342.72" y1="148" x2="342.72" y2="143.21" stroke="#d0d0d0" stroke-width="0.6"/>
<line x1="353.01" y1="148" x2="353.01" y2="139.74" stroke="#d0d0d0" stroke-width="0.6"/>
<line x1="264.56" y1="148" x2="264.56" y2="144.54" stroke="#d0d0d0" stroke-width="0.6"/>
<line x1="348.60" y1="148" x2="348.60" y2="142.58" stroke="#d0d0d0" stroke-width="0.6"/>
<line x1="355.08" y1="148" x2="355.08" y2="143.12" stroke="#d0d0d0" stroke-width="0.6"/>
<line x1="271.26" y1="148" x2="271.26" y2="141.38" stroke="#d0d0d0" stroke-width="0.6"/>
<line x1="336.43" y1="148" x2="336.43" y2="144.09" stroke="#d0d0d0" stroke-width="0.6"/>
<line x1="272.56" y1="148" x2="272.56" y2="143.61" stroke="#d0d0d0" stroke-width="0.6"/>
<line x1="353.57" y1="148" x2="353.57" y2="140.41" stroke="#d0d0d0" stroke-width="0.6"/>
<line x1="275.41" y1="148" x2="275.41" y2="144.26" stroke="#d0d0d0" stroke-width="0.6"/>
<line x1="273.84" y1="148" x2="273.84" y2="145.67" stroke="#d0d0d0" stroke-width="0.6"/>
<line x1="338.14" y1="148" x2="338.14" y2="144.78" stroke="#d0d0d0" stroke-width="0.6"/>
<line x1="316.18" y1="148" x2="316.18" y2="142.75" stroke="#d0d0d0" stroke-width="0.6"/>
<line x1="282.12" y1="148" x2="282.12" y2="140.61" stroke="#d0d0d0" stroke-width="0.6"/>
<line x1="276.61" y1="148" x2="276.61" y2="141.27" stroke="#d0d0d0" stroke-width="0.6"/>
<line x1="275.27" y1="148" x2="275.27" y2="142.95" stroke="#d0d0d0" stroke-width="0.6"/>
<line x1="284.17" y1="148" x2="284.17" y2="144.09" stroke="#d0d0d0" stroke-width="0.6"/>
<line x1="354.21" y1="148" x2="354.21" y2="140.07" stroke="#d0d0d0" stroke-width="0.6"/>
<line x1="292.61" y1="148" x2="292.61" y2="139.45" stroke="#d0d0d0" stroke-width="0.6"/>
<line x1="283.97" y1="148" x2="283.97" y2="143.15" stroke="#d0d0d0" stroke-width="0.6"/>
<line x1="343.44" y1="148" x2="343.44" y2="141.28" stroke="#d0d0d0" stroke-width="0.6"/>
<line x1="273.78" y1="148" x2="273.78" y2="138.67" stroke="#d0d0d0" stroke-width="0.6"/>
<line x1="284.21" y1="148" x2="284.21" y2="144.17" stroke="#d0d0d0" stroke-width="0.6"/>
<line x1="335.89" y1="148" x2="335.89" y2="143.64" stroke="#d0d0d0" stroke-width="0.6"/>
<line x1="291.88" y1="148" x2="291.88" y2="145.56" stroke="#d0d0d0" stroke-width="0.6"/>
<line x1="272.83" y1="148" x2="272.83" y2="141.73" stroke="#d0d0d0" stroke-width="0.6"/>
<line x1="286.96" y1="148" x2="286.96" y2="141.59" stroke="#d0d0d0" stroke-width="0.6"/>
<line x1="298.85" y1="148" x2="298.85" y2="142.70" stroke="#d0d0d0" stroke-width="0.6"/>
<line x1="353.12" y1="148" x2="353.12" y2="142.48" stroke="#d0d0d0" stroke-width="0.6"/>
<line x1="317.59" y1="148" x2="317.59" y2="139.59" stroke="#d0d0d0" stroke-width="0.6"/>
<line x1="281.40" y1="148" x2="281.40" y2="144.96" stroke="#d0d0d0" stroke-width="0.6"/>
<line x1="348.43" y1="148" x2="348.43" y2="139.96" stroke="#d0d0d0" stroke-width="0.6"/>
<line x1="287.56" y1="148" x2="287.56" y2="144.69" stroke="#d0d0d0" stroke-width="0.6"/>
<line x1="332.82" y1="148" x2="332.82" y2="139.04" stroke="#d0d0d0" stroke-width="0.6"/>
<line x1="282.67" y1="148" x2="282.67" y2="138.96" stroke="#d0d0d0" stroke-width="0.6"/>
<line x1="346.01" y1="148" x2="346.01" y2="141.57" stroke="#d0d0d0" stroke-width="0.6"/>
<line x1="303.44" y1="148" x2="303.44" y2="145.34" stroke="#d0d0d0" stroke-width="0.6"/>
<line x1="268.08" y1="148" x2="268.08" y2="138.87" stroke="#d0d0d0" stroke-width="0.6"/>
<line x1="286.53" y1="148" x2="286.53" y2="140.81" stroke="#d0d0d0" stroke-width="0.6"/>
<line x1="288.25" y1="148" x2="288.25" y2="139.91" stroke="#d0d0d0" stroke-width="0.6"/>
<line x1="319.61" y1="148" x2="319.61" y2="143.91" stroke="#d0d0d0" stroke-width="0.6"/>
<line x1="280.71" y1="148" x2="280.71" y2="140.69" stroke="#d0d0d0" stroke-width="0.6"/>
<line x1="270.86" y1="148" x2="270.86" y2="144.40" stroke="#d0d0d0" stroke-width="0.6"/>
<line x1="316.18" y1="148" x2="316.18" y2="139.70" stroke="#d0d0d0" stroke-width="0.6"/>
<line x1="321.26" y1="148" x2="321.26" y2="144.01" stroke="#d0d0d0" stroke-width="0.6"/>
<line x1="349.26" y1="148" x2="349.26" y2="144.58" stroke="#d0d0d0" stroke-width="0.6"/>
<line x1="266.04" y1="148" x2="266.04" y2="144.09" stroke="#d0d0d0" stroke-width="0.6"/>
<line x1="305.68" y1="148" x2="305.68" y2="145.66" stroke="#d0d0d0" stroke-width="0.6"/>
<line x1="280.79" y1="148" x2="280.79" y2="143.34" stroke="#d0d0d0" stroke-width="0.6"/>
<line x1="317.37" y1="148" x2="317.37" y2="145.13" stroke="#d0d0d0" stroke-width="0.6"/>
<line x1="297.96" y1="148" x2="297.96" y2="139.41" stroke="#d0d0d0" stroke-width="0.6"/>
<line x1="355.09" y1="148" x2="355.09" y2="141.17" stroke="#d0d0d0" stroke-width="0.6"/>
<line x1="328.36" y1="148" x2="328.36" y2="141.72" stroke="#d0d0d0" stroke-width="0.6"/>
<line x1="277.47" y1="148" x2="277.47" y2="145.85" stroke="#d0d0d0" stroke-width="0.6"/>
<line x1="266.16" y1="148" x2="266.16" y2="139.26" stroke="#d0d0d0" stroke-width="0.6"/>
<line x1="329.27" y1="148" x2="329.27" y2="138.87" stroke="#d0d0d0" stroke-width="0.6"/>
<line x1="266.47" y1="148" x2="266.47" y2="141.33" stroke="#d0d0d0" stroke-width="0.6"/>
<line x1="309.06" y1="148" x2="309.06" y2="140.62" stroke="#d0d0d0" stroke-width="0.6"/>
<line x1="293.97" y1="148" x2="293.97" y2="138.59" stroke="#d0d0d0" stroke-width="0.6"/>
<line x1="271.46" y1="148" x2="271.46" y2="142.01" stroke="#d0d0d0" stroke-width="0.6"/>
<line x1="332.59" y1="148" x2="332.59" y2="139.34" stroke="#d0d0d0" stroke-width="0.6"/>
<line x1="332.60" y1="148" x2="332.60" y2="140.82" stroke="#d0d0d0" stroke-width="0.6"/>
<line x1="473.66" y1="148" x2="473.66" y2="144.45" stroke="#d0d0d0" stroke-width="0.6"/>
<line x1="408.68" y1="148" x2="408.68" y2="145.03" stroke="#d0d0d0" stroke-width="0.6"/>
<line x1="489.50" y1="148" x2="489.50" y2="144.56" stroke="#d0d0d0" stroke-width="0.6"/>
<line x1="418.30" y1="148" x2="418.30" y2="144.76" stroke="#d0d0d0" stroke-width="0.6"/>
<line x1="484.00" y1="148" x2="484.00" y2="145.31" stroke="#d0d0d0" stroke-width="0.6"/>
<line x1="448.89" y1="148" x2="448.89" y2="145.79" stroke="#d0d0d0" stroke-width="0.6"/>
<line x1="442.66" y1="148" x2="442.66" y2="145.22" stroke="#d0d0d0" stroke-width="0.6"/>
<line x1="368.70" y1="148" x2="368.70" y2="145.14" stroke="#d0d0d0" stroke-width="0.6"/>
<line x1="503.11" y1="148" x2="503.11" y2="144.54" stroke="#d0d0d0" stroke-width="0.6"/>
<line x1="464.09" y1="148" x2="464.09" y2="145.77" stroke="#d0d0d0" stroke-width="0.6"/>
<line x1="465.09" y1="148" x2="465.09" y2="145.29" stroke="#d0d0d0" stroke-width="0.6"/>
<line x1="421.74" y1="148" x2="421.74" y2="144.64" stroke="#d0d0d0" stroke-width="0.6"/>
<line x1="369.22" y1="148" x2="369.22" y2="144.86" stroke="#d0d0d0" stroke-width="0.6"/>
<line x1="361.28" y1="148" x2="361.28" y2="145.24" stroke="#d0d0d0" stroke-width="0.6"/>
<line x1="427.69" y1="148" x2="427.69" y2="146.17" stroke="#d0d0d0" stroke-width="0.6"/>
<line x1="459.69" y1="148" x2="459.69" y2="145.50" stroke="#d0d0d0" stroke-width="0.6"/>
<line x1="447.35" y1="148" x2="447.35" y2="144.43" stroke="#d0d0d0" stroke-width="0.6"/>
<line x1="394.55" y1="148" x2="394.55" y2="146.72" stroke="#d0d0d0" stroke-width="0.6"/>
<line x1="401.20" y1="148" x2="401.20" y2="145.04" stroke="#d0d0d0" stroke-width="0.6"/>
<line x1="386.71" y1="148" x2="386.71" y2="146.32" stroke="#d0d0d0" stroke-width="0.6"/>
<line x1="490.22" y1="148" x2="490.22" y2="145.09" stroke="#d0d0d0" stroke-width="0.6"/>
<line x1="421.95" y1="148" x2="421.95" y2="144.51" stroke="#d0d0d0" stroke-width="0.6"/>
<line x1="405.02" y1="148" x2="405.02" y2="145.07" stroke="#d0d0d0" stroke-width="0.6"/>
<line x1="386.11" y1="148" x2="386.11" y2="145.66" stroke="#d0d0d0" stroke-width="0.6"/>
<line x1="475.54" y1="148" x2="475.54" y2="144.45" stroke="#d0d0d0" stroke-width="0.6"/>
<path d="M264,148 L264.00,147.62 L264.70,147.13 L265.40,147.41 L266.10,147.03 L266.80,147.00 L267.50,147.90 L268.20,147.98 L268.90,146.66 L269.60,147.59 L270.30,147.63 L271.00,146.41 L271.70,147.25 L272.40,146.66 L273.10,147.24 L273.80,146.98 L274.50,147.76 L275.20,146.98 L275.90,146.61 L276.60,147.16 L277.30,146.81 L278.00,146.93 L278.70,147.90 L279.40,146.79 L280.10,147.05 L280.80,147.52 L281.50,147.95 L282.20,146.62 L282.90,147.24 L283.60,146.85 L284.30,146.59 L285.00,146.86 L285.70,146.53 L286.40,147.37 L287.10,146.72 L287.80,147.29 L288.50,146.50 L289.20,146.59 L289.90,147.84 L290.60,147.78 L291.30,147.65 L292.00,146.46 L292.70,147.30 L293.40,147.00 L294.10,147.52 L294.80,147.19 L295.50,147.38 L296.20,147.44 L296.90,147.06 L297.60,147.07 L298.30,146.55 L299.00,146.91 L299.70,146.51 L300.40,146.63 L301.10,146.41 L301.80,146.93 L302.50,147.74 L303.20,146.62 L303.90,146.46 L304.60,146.55 L305.30,147.09 L306.00,146.86 L306.70,147.66 L307.40,146.67 L308.10,147.08 L308.80,147.54 L309.50,147.90 L310.20,146.63 L310.90,146.42 L311.60,147.86 L312.30,146.72 L313.00,147.34 L313.70,147.76 L314.40,147.53 L315.10,146.77 L315.80,146.60 L316.50,147.93 L317.20,147.02 L317.90,147.93 L318.60,146.85 L319.30,147.47 L320.00,146.59 L320.70,146.43 L321.40,147.19 L322.10,146.40 L322.80,147.50 L323.50,147.88 L324.20,147.04 L324.90,147.95 L325.60,147.68 L326.30,147.35 L327.00,147.02 L327.70,147.75 L328.40,147.93 L329.10,146.61 L329.80,147.50 L330.50,146.47 L331.20,146.57 L331.90,147.40 L332.60,147.26 L333.30,147.17 L334.00,146.97 L334.70,147.05 L335.40,147.11 L336.10,147.01 L336.80,146.50 L337.50,147.19 L338.20,147.31 L338.90,146.85 L339.60,147.62 L340.30,147.52 L341.00,146.44 L341.70,147.17 L342.40,147.12 L343.10,147.98 L343.80,147.34 L344.50,147.07 L345.20,147.97 L345.90,147.01 L346.60,146.99 L347.30,147.90 L348.00,147.00 L348.70,147.25 L349.40,146.91 L350.10,147.44 L350.80,146.87 L351.50,146.82 L352.20,147.96 L352.90,147.90 L353.60,146.92 L354.30,146.46 L355.00,147.60 L355.70,147.27 L356.40,147.05 L357.10,147.49 L357.80,147.42 L358.50,147.50 L359.20,147.41 L359.90,147.05 L360.60,147.52 L361.30,147.40 L362.00,146.76 L362.70,147.96 L363.40,147.09 L364.10,146.82 L364.80,147.50 L365.50,147.64 L366.20,146.71 L366.90,147.62 L367.60,147.70 L368.30,147.30 L369.00,146.88 L369.70,147.84 L370.40,147.48 L371.10,147.47 L371.80,146.67 L372.50,147.30 L373.20,146.63 L373.90,147.73 L374.60,147.46 L375.30,146.96 L376.00,146.58 L376.70,147.28 L377.40,147.64 L378.10,147.81 L378.80,147.15 L379.50,147.69 L380.20,146.71 L380.90,146.66 L381.60,147.71 L382.30,147.55 L383.00,146.71 L383.70,146.97 L384.40,146.71 L385.10,147.45 L385.80,147.79 L386.50,147.53 L387.20,146.73 L387.90,147.57 L388.60,147.45 L389.30,147.33 L390.00,147.33 L390.70,147.34 L391.40,146.53 L392.10,147.75 L392.80,147.99 L393.50,146.49 L394.20,146.59 L394.90,146.42 L395.60,147.31 L396.30,146.48 L397.00,146.52 L397.70,147.64 L398.40,146.81 L399.10,146.66 L399.80,146.94 L400.50,147.17 L401.20,147.54 L401.90,147.45 L402.60,147.64 L403.30,147.89 L404.00,147.06 L404.70,147.54 L405.40,146.70 L406.10,147.93 L406.80,146.55 L407.50,146.89 L408.20,146.52 L408.90,146.57 L409.60,146.56 L410.30,147.08 L411.00,147.98 L411.70,146.81 L412.40,147.73 L413.10,147.52 L413.80,146.94 L414.50,147.16 L415.20,147.34 L415.90,146.50 L416.60,147.02 L417.30,147.45 L418.00,147.60 L418.70,146.62 L419.40,147.24 L420.10,146.75 L420.80,147.44 L421.50,147.68 L422.20,147.14 L422.90,146.69 L423.60,147.73 L424.30,146.73 L425.00,146.53 L425.70,146.71 L426.40,146.68 L427.10,147.99 L427.80,146.99 L428.50,146.62 L429.20,147.92 L429.90,147.57 L430.60,147.57 L431.30,147.16 L432.00,147.32 L432.70,147.24 L433.40,146.76 L434.10,148.00 L434.80,147.91 L435.50,147.80 L436.20,147.80 L436.90,147.89 L437.60,146.44 L438.30,146.63 L439.00,147.86 L439.70,147.20 L440.40,147.49 L441.10,147.50 L441.80,147.44 L442.50,146.96 L443.20,147.06 L443.90,147.42 L444.60,147.69 L445.30,147.47 L446.00,147.80 L446.70,147.11 L447.40,146.85 L448.10,147.39 L448.80,147.87 L449.50,147.71 L450.20,147.40 L450.90,147.03 L451.60,146.75 L452.30,147.39 L453.00,146.72 L453.70,147.00 L454.40,147.31 L455.10,147.40 L455.80,147.21 L456.50,146.88 L457.20,147.33 L457.90,146.89 L458.60,147.26 L459.30,147.61 L460.00,147.14 L460.70,146.89 L461.40,147.89 L462.10,147.32 L462.80,147.32 L463.50,146.59 L464.20,146.50 L464.90,147.40 L465.60,146.56 L466.30,146.73 L467.00,147.58 L467.70,147.26 L468.40,147.80 L469.10,146.70 L469.80,146.94 L470.50,146.58 L471.20,146.73 L471.90,146.93 L472.60,146.83 L473.30,147.10 L474.00,147.83 L474.70,147.06 L475.40,147.99 L476.10,147.77 L476.80,146.76 L477.50,147.93 L478.20,147.85 L478.90,147.84 L479.60,146.59 L480.30,147.71 L481.00,147.96 L481.70,146.65 L482.40,147.81 L483.10,146.65 L483.80,146.92 L484.50,146.66 L485.20,146.48 L485.90,147.07 L486.60,146.72 L487.30,147.94 L488.00,146.77 L488.70,147.18 L489.40,146.86 L490.10,147.83 L490.80,146.80 L491.50,146.50 L492.20,147.90 L492.90,147.48 L493.60,147.10 L494.30,146.68 L495.00,147.61 L495.70,147.71 L496.40,147.60 L497.10,147.01 L497.80,146.79 L498.50,147.37 L499.20,147.41 L499.90,147.37 L500.60,147.44 L501.30,147.33 L502.00,147.87 L502.70,147.20 L503.40,146.44 L504.10,147.34 L504.80,146.80 L505.50,147.74 L506.20,146.89 L506.90,146.79 L507.60,146.92 L508.30,147.17 L509.00,147.23 L509.70,146.97 L510.40,146.56 L511,148Z" fill="#c8c8c8" stroke="#c8c8c8" stroke-width="0.3"/>
<text x="270" y="26" font-size="6.0" text-anchor="start" fill="#000" stroke="#000" stroke-width="0.15">P</text>
<text x="270" y="63.6" font-size="6.0" text-anchor="start" fill="#000" stroke="#000" stroke-width="0.15">a1 - 17(+1)</text>
<text x="275" y="87.8" font-size="6.0" text-anchor="start" fill="#000" stroke="#000" stroke-width="0.15">L,N</text>
<text x="286.8" y="96.4" font-size="6.0" text-anchor="start" fill="#000" stroke="#000" stroke-width="0.15">y1(+1),NS(+1) -28</text>
<text x="266" y="99.6" font-size="6.0" text-anchor="start" fill="#000" stroke="#000" stroke-width="0.15">V</text>
<text x="271" y="106" font-size="6.0" text-anchor="start" fill="#000" stroke="#000" stroke-width="0.15">b1 - 17(+1)</text>
<text x="314.5" y="104.6" font-size="6.0" text-anchor="start" fill="#000" stroke="#000" stroke-width="0.15">PNS(+1),SVL(+1)</text>
<text x="270" y="114.6" font-size="6.0" text-anchor="start" fill="#000" stroke="#000" stroke-width="0.15">R,b1(+1)</text>
<text x="296.2" y="115.4" font-size="6.0" text-anchor="start" fill="#000" stroke="#000" stroke-width="0.15">LP(+1),PN(+1),VL(+1)</text>
<text x="273" y="125.6" font-size="6.0" text-anchor="start" fill="#000" stroke="#000" stroke-width="0.15">K, a1(+1)</text>
<text x="301" y="122.7" font-size="6.0" text-anchor="start" fill="#000" stroke="#000" stroke-width="0.15">y2(+1)</text>
<text x="343" y="122" font-size="6.0" text-anchor="start" fill="#000" stroke="#000" stroke-width="0.15">PNSV(+1)</text>
<text x="264.5" y="129.6" font-size="6.0" text-anchor="start" fill="#000" stroke="#000" stroke-width="0.15">S</text>
<text x="311" y="129.4" font-size="6.0" text-anchor="start" fill="#000" stroke="#000" stroke-width="0.15">286.2</text>
<text x="331.8" y="129.2" font-size="6.0" text-anchor="start" fill="#000" stroke="#000" stroke-width="0.15">y3(+1)</text>
<text x="278.1" y="137" font-size="6.0" text-anchor="start" fill="#000" stroke="#000" stroke-width="0.15">154.1</text>
<text x="293.5" y="135.7" font-size="6.0" text-anchor="start" fill="#000" stroke="#000" stroke-width="0.15">a2 -17 (+1)</text>
<text x="326.3" y="135.5" font-size="6.0" text-anchor="start" fill="#000" stroke="#000" stroke-width="0.15">301.2</text>
<text x="337.5" y="141" font-size="6.0" text-anchor="start" fill="#000" stroke="#000" stroke-width="0.15">371.2</text>
<text x="352" y="136" font-size="6.0" text-anchor="start" fill="#000" stroke="#000" stroke-width="0.15">y4(+1),NSVLG(+1) -28</text>
<text x="398.8" y="128.4" font-size="6.0" text-anchor="start" fill="#000" stroke="#000" stroke-width="0.15">a7(+1),y7 - 17(+1)</text>
<text x="428" y="118" font-size="6.0" text-anchor="start" fill="#000" stroke="#000" stroke-width="0.15">y7(+1)</text>
<text x="410.5" y="142" font-size="6.0" text-anchor="start" fill="#000" stroke="#000" stroke-width="0.15">a6(+1)</text>
<text x="489" y="139" font-size="6.0" text-anchor="start" fill="#000" stroke="#000" stroke-width="0.15">y9(+1)</text>
<text transform="translate(291.5,229.2) scale(0.94,1)" font-size="19.8" font-weight="bold" stroke="#000" stroke-width="0.3" text-anchor="start" fill="#000">D</text>
<rect x="392.5" y="238.5" width="120" height="108.5" fill="none" stroke="#222" stroke-width="0.8"/>
<line x1="392.3" y1="238" x2="392.3" y2="347.5" stroke="#000" stroke-width="1.4"/>
<line x1="391.6" y1="346.9" x2="513" y2="346.9" stroke="#000" stroke-width="1.5"/>
<rect x="392" y="243.20" width="108.80" height="9.8" fill="#000"/>
<line x1="385.8" y1="248.10" x2="392" y2="248.10" stroke="#000" stroke-width="1.3"/>
<text transform="translate(311.6,250.75) scale(0.99,1)" font-size="10.0" font-weight="bold" stroke="#000" stroke-width="0.3" text-anchor="start" fill="#000">MZ1257-RCC</text>
<rect x="392" y="258.13" width="6.80" height="9.8" fill="#000"/>
<line x1="385.8" y1="263.03" x2="392" y2="263.03" stroke="#000" stroke-width="1.3"/>
<text transform="translate(311.6,265.85) scale(0.99,1)" font-size="10.0" font-weight="bold" stroke="#000" stroke-width="0.3" text-anchor="start" fill="#000">T2-A3</text>
<rect x="392" y="273.06" width="114.80" height="9.8" fill="#000"/>
<line x1="385.8" y1="277.96" x2="392" y2="277.96" stroke="#000" stroke-width="1.3"/>
<text transform="translate(311.6,280.95) scale(0.99,1)" font-size="10.0" font-weight="bold" stroke="#000" stroke-width="0.3" text-anchor="start" fill="#000">T2-A3 + 10<tspan font-size="7" dy="-3.5">-6</tspan><tspan dy="3.5"> M</tspan></text>
<rect x="392" y="287.99" width="108.80" height="9.8" fill="#000"/>
<line x1="385.8" y1="292.89" x2="392" y2="292.89" stroke="#000" stroke-width="1.3"/>
<text transform="translate(311.6,296.05) scale(0.99,1)" font-size="10.0" font-weight="bold" stroke="#000" stroke-width="0.3" text-anchor="start" fill="#000">T2-A3 + 10<tspan font-size="7" dy="-3.5">-7</tspan><tspan dy="3.5"> M</tspan></text>
<rect x="392" y="302.92" width="60.50" height="9.8" fill="#000"/>
<line x1="385.8" y1="307.82" x2="392" y2="307.82" stroke="#000" stroke-width="1.3"/>
<text transform="translate(311.6,311.15) scale(0.99,1)" font-size="10.0" font-weight="bold" stroke="#000" stroke-width="0.3" text-anchor="start" fill="#000">T2-A3 + 10<tspan font-size="7" dy="-3.5">-8</tspan><tspan dy="3.5"> M</tspan></text>
<rect x="392" y="317.85" width="36.80" height="9.8" fill="#000"/>
<line x1="385.8" y1="322.75" x2="392" y2="322.75" stroke="#000" stroke-width="1.3"/>
<text transform="translate(311.6,326.25) scale(0.99,1)" font-size="10.0" font-weight="bold" stroke="#000" stroke-width="0.3" text-anchor="start" fill="#000">T2-A3 + 10<tspan font-size="7" dy="-3.5">-9</tspan><tspan dy="3.5"> M</tspan></text>
<rect x="392" y="332.78" width="6.30" height="9.8" fill="#000"/>
<line x1="385.8" y1="337.68" x2="392" y2="337.68" stroke="#000" stroke-width="1.3"/>
<text transform="translate(311.6,341.35) scale(0.99,1)" font-size="10.0" font-weight="bold" stroke="#000" stroke-width="0.3" text-anchor="start" fill="#000">T2-A3 + 10<tspan font-size="7" dy="-3.5">-10</tspan><tspan dy="3.5"> M</tspan></text>
<line x1="392.30" y1="347" x2="392.30" y2="352.4" stroke="#000" stroke-width="1.3"/>
<text transform="translate(390.40,365.2) scale(0.97,1)" font-size="10" font-weight="bold" stroke="#000" stroke-width="0.3" text-anchor="middle" fill="#000" letter-spacing="-0.5">0</text>
<line x1="416.35" y1="347" x2="416.35" y2="352.4" stroke="#000" stroke-width="1.3"/>
<text transform="translate(413.60,365.2) scale(0.97,1)" font-size="10" font-weight="bold" stroke="#000" stroke-width="0.3" text-anchor="middle" fill="#000" letter-spacing="-0.5">100</text>
<line x1="440.40" y1="347" x2="440.40" y2="352.4" stroke="#000" stroke-width="1.3"/>
<text transform="translate(437.70,365.2) scale(0.97,1)" font-size="10" font-weight="bold" stroke="#000" stroke-width="0.3" text-anchor="middle" fill="#000" letter-spacing="-0.5">200</text>
<line x1="464.45" y1="347" x2="464.45" y2="352.4" stroke="#000" stroke-width="1.3"/>
<text transform="translate(461.80,365.2) scale(0.97,1)" font-size="10" font-weight="bold" stroke="#000" stroke-width="0.3" text-anchor="middle" fill="#000" letter-spacing="-0.5">300</text>
<line x1="488.50" y1="347" x2="488.50" y2="352.4" stroke="#000" stroke-width="1.3"/>
<text transform="translate(485.90,365.2) scale(0.97,1)" font-size="10" font-weight="bold" stroke="#000" stroke-width="0.3" text-anchor="middle" fill="#000" letter-spacing="-0.5">400</text>
<line x1="512.55" y1="347" x2="512.55" y2="352.4" stroke="#000" stroke-width="1.3"/>
<text transform="translate(510.00,365.2) scale(0.97,1)" font-size="10" font-weight="bold" stroke="#000" stroke-width="0.3" text-anchor="middle" fill="#000" letter-spacing="-0.5">500</text>
<text x="452.6" y="378.7" font-size="10.9" font-weight="bold" stroke="#000" stroke-width="0.3" text-anchor="middle">IFN-<tspan font-family="Liberation Serif, serif" font-weight="bold" stroke-width="0.1" font-size="11.5">γ</tspan> spots/well</text>
</svg>
</body></html>
